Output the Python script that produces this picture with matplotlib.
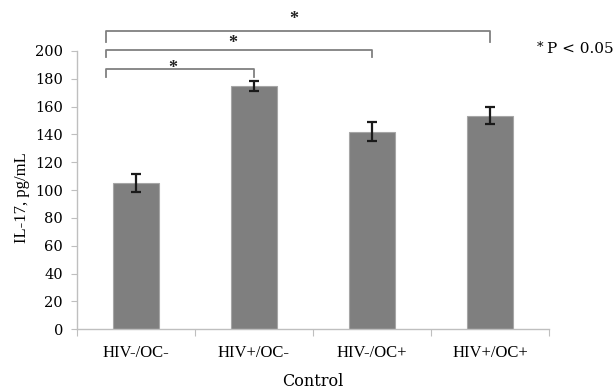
import matplotlib
matplotlib.use("Agg")
import matplotlib.pyplot as plt

categories = ["HIV-/OC-", "HIV+/OC-", "HIV-/OC+", "HIV+/OC+"]
values = [105, 175, 142, 153.5]
errors = [6.5, 3.5, 7, 6.3]
y_ticks = [0, 20, 40, 60, 80, 100, 120, 140, 160, 180, 200]
# significance comparisons: (group a, group b)
comparisons = [(0, 1), (0, 2), (0, 3)]

plt.rcParams['font.family'] = ['Liberation Serif', 'DejaVu Serif']

fig = plt.figure(figsize=(6.14, 3.92), dpi=100)
ax = fig.add_axes([0.1254, 0.16, 0.7687, 0.71])

x = list(range(len(categories)))
ax.bar(x, values, width=0.39, color="#7f7f7f", edgecolor="#a6a6a6", linewidth=0.8, zorder=2)
ax.errorbar(x, values, yerr=errors, fmt="none", ecolor="#1a1a1a", elinewidth=1.6,
            capsize=3.5, capthick=1.6, zorder=3)

ax.set_xlim(-0.5, 3.5)
ax.set_ylim(0, 200)
ax.set_yticks(y_ticks)
ax.set_yticklabels([str(t) for t in y_ticks], fontsize=10.5, family="DejaVu Serif")
ax.set_xticks([i - 0.5 for i in range(len(categories) + 1)])
ax.set_xticklabels([])
ax.set_xticks(x, minor=True)
ax.set_xticklabels(categories, minor=True, fontsize=12)
ax.tick_params(axis="x", which="minor", length=0, pad=11)
ax.tick_params(axis="x", which="major", length=5, color="#bfbfbf", direction="out")
ax.tick_params(axis="y", length=4, color="#bfbfbf", direction="out", pad=6)

for s in ["top", "right"]:
    ax.spines[s].set_visible(False)
for s in ["left", "bottom"]:
    ax.spines[s].set_color("#bfbfbf")
    ax.spines[s].set_linewidth(1.0)

ax.set_ylabel("IL-17, pg/mL", fontsize=12)
ax.yaxis.set_label_coords(-0.099, 0.472)
ax.set_xlabel("Control", fontsize=11.5, family="DejaVu Serif", labelpad=9)

# significance brackets
levels = [(187, 181), (201, 195.5), (214.5, 206.5)]
star_pos = [(0.31, 181.5), (0.82, 199), (1.34, 216.5)]
left_end = -0.25
for (a, b), (ytop, ybot), (sx, sy) in zip(comparisons, levels, star_pos):
    ax.plot([left_end, left_end, b, b], [ybot, ytop, ytop, ybot], color="#808080",
            lw=1.3, clip_on=False, zorder=4)
    ax.text(sx, sy, "*", ha="center", va="bottom", fontsize=13, fontweight="bold",
            color="#222222", clip_on=False)

fig.text(0.875, 0.869, "*", fontsize=9.5, ha="left", va="baseline", family="DejaVu Serif")
fig.text(0.891, 0.864, "P < 0.05", fontsize=11, ha="left", va="baseline", family="DejaVu Serif")

fig.savefig("out.png", dpi=100)
